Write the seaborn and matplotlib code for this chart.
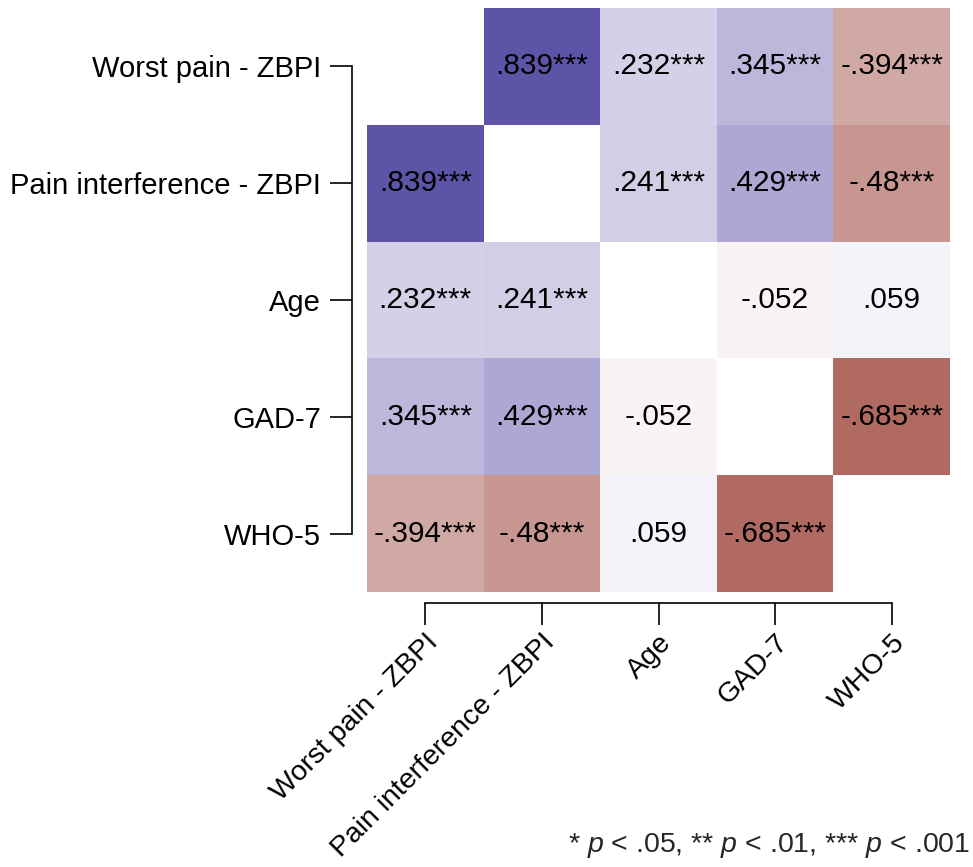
import numpy as np
import pandas as pd
import seaborn as sns
import matplotlib
matplotlib.use("Agg")
import matplotlib.pyplot as plt
from matplotlib.colors import LinearSegmentedColormap

variables = ["Worst pain - ZBPI", "Pain interference - ZBPI", "Age", "GAD-7", "WHO-5"]

row_worst = [np.nan, 0.839, 0.232, 0.345, -0.394]
row_interf = [0.839, np.nan, 0.241, 0.429, -0.480]
row_age = [0.232, 0.241, np.nan, -0.052, 0.059]
row_gad = [0.345, 0.429, -0.052, np.nan, -0.685]
row_who = [-0.394, -0.480, 0.059, -0.685, np.nan]

stars_worst = [0, 3, 3, 3, 3]
stars_interf = [3, 0, 3, 3, 3]
stars_age = [3, 3, 0, 0, 0]
stars_gad = [3, 3, 0, 0, 3]
stars_who = [3, 3, 0, 3, 0]

footnote = r"* $\it{p}$ < .05, ** $\it{p}$ < .01, *** $\it{p}$ < .001"

sns.set_theme(style="white")
plt.rcParams["font.family"] = ["Liberation Sans", "DejaVu Sans"]
plt.rcParams["mathtext.fontset"] = "custom"
plt.rcParams["mathtext.rm"] = "Liberation Sans"
plt.rcParams["mathtext.it"] = "Liberation Sans:italic"
plt.rcParams["mathtext.bf"] = "Liberation Sans:bold"

values = np.array([row_worst, row_interf, row_age, row_gad, row_who])
stars = np.array([stars_worst, stars_interf, stars_age, stars_gad, stars_who])
df = pd.DataFrame(values, index=variables, columns=variables)


def fmt(v, s):
    if np.isnan(v):
        return ""
    txt = f"{v:.3f}".rstrip("0").replace("0.", ".", 1)
    return txt + "*" * int(s)


annot = np.array([[fmt(v, s) for v, s in zip(rv, rs)] for rv, rs in zip(values, stars)])

cmap = LinearSegmentedColormap.from_list("rb", ["#8c261a", "#ffffff", "#403497"])

FS = 21.5
fig = plt.figure(figsize=(9.73, 8.67), dpi=100)
ax = fig.add_axes([367 / 973, 1 - 592 / 867, 583 / 973, 584 / 867])
sns.heatmap(df, mask=np.isnan(values), cmap=cmap, vmin=-1, vmax=1, annot=annot, fmt="",
            cbar=False, ax=ax, annot_kws={"color": "black", "fontsize": FS})

for side in ["top", "right"]:
    ax.spines[side].set_visible(False)
for side in ["left", "bottom"]:
    ax.spines[side].set_visible(True)
    ax.spines[side].set_color("black")
    ax.spines[side].set_linewidth(1.2)
    ax.spines[side].set_bounds(0.5, 4.5)
ax.spines["left"].set_position(("outward", 11))
ax.spines["bottom"].set_position(("outward", 8))

ax.tick_params(axis="both", which="major", length=16, width=1.2, color="black",
               labelsize=21, labelcolor="black", direction="out", left=True, bottom=True)
ax.tick_params(axis="y", pad=6)
ax.tick_params(axis="x", pad=3, labelsize=20.5)
ax.set_yticklabels(variables, rotation=0)
ax.set_xticklabels(variables, rotation=45, ha="right", rotation_mode="anchor")
ax.set_xlabel("")
ax.set_ylabel("")

fig.text(970 / 973, 1 - 852 / 867, footnote, ha="right", va="baseline", fontsize=20.5)

fig.savefig("out.png", dpi=100)
